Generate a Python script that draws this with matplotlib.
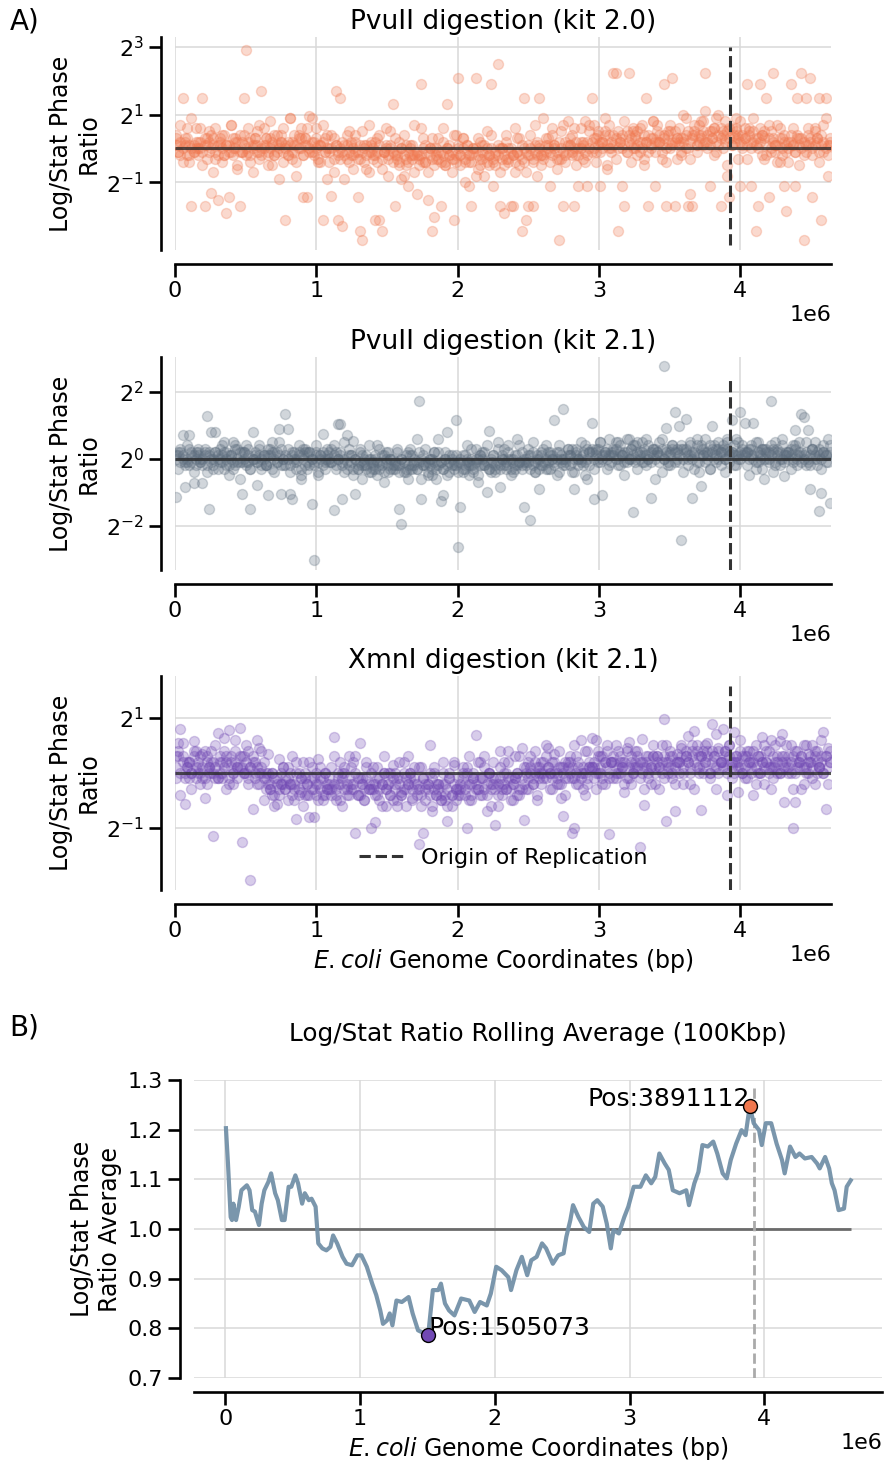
import numpy as np
import matplotlib.pyplot as plt
from matplotlib.ticker import FixedLocator, LogFormatterMathtext, NullLocator, MultipleLocator

GENOME_LEN = 4641652
ORIGIN = 3925744
N_BINS = 300  # genome bins of ~15.5 kb

# log2(log/stat ratio) per bin, PvuII kit 2.0
pvu20_log2 = [
    0.3, 0.1, -0.2, 1.48, 0.2, 0.6, -0.4, -1.71, 0.1, 0.0,
    0.2, 0.0, 1.48, -1.71, 0.3, 0.5, -1.32, 0.1, -0.3, -1.51,
    0.1, 0.4, -0.2, -1.9, -1.43, 0.7, 0.0, 0.2, -0.6, -1.71,
    0.2, 1.48, 2.90, -0.1, 0.3, -0.7, 0.1, 0.5, -0.3, 1.71,
    0.0, 0.3, -0.5, 0.8, 0.1, -0.2, 0.4, -0.9, 0.2, 0.6,
    -2.12, 0.2, 0.9, -0.3, 0.1, -0.8, 0.4, 0.0, -1.43, 0.3,
    -1.43, 0.95, 0.2, -0.1, 0.6, -0.4, 0.1, -2.12, 0.3, -0.9,
    0.0, -1.4, 0.3, 1.71, -2.1, 1.48, -2.28, 0.1, -0.3, 0.5,
    0.2, -0.2, 0.4, -1.43, -2.43, -2.69, 0.1, -0.6, 0.7, -0.1,
    -0.2, -2.12, 0.3, -2.12, -2.43, -0.1, 0.6, -0.8, 0.0, 1.32,
    -1.71, -0.3, 0.2, -0.9, 0.4, -0.5, -1.1, 0.1, -0.2, 0.7,
    -1.35, -0.2, 1.91, 0.3, -0.4, -1.51, 0.0, -2.43, -2.02, -0.3,
    -0.1, -1.71, 0.2, -0.5, 1.32, 0.1, -0.3, -2.12, 0.4, 2.07,
    -0.2, 0.3, -0.4, 0.1, -1.12, -1.71, 0.0, 2.07, -0.6, 0.2,
    -0.3, 0.1, 0.5, -0.2, 1.91, -1.12, -0.5, 2.50, -1.71, 0.0,
    -1.9, 0.2, -0.3, -1.71, -1.71, 0.6, -0.1, 0.3, -2.43, 1.48,
    -2.12, -1.71, 0.4, -1.71, 0.7, 0.2, 1.48, -0.2, 0.9, 0.1,
    0.3, -1.12, 0.6, 0.0, -0.3, -2.69, 0.5, -1.71, 0.2, 0.8,
    0.1, 0.4, -1.71, -0.2, -1.12, 0.6, 0.2, -0.4, -1.12, 0.7,
    1.48, 0.3, -0.1, 0.5, -1.12, 0.2, 0.9, -0.5, 0.4, 0.0,
    2.23, 2.23, -2.43, 0.3, -1.12, -1.71, 0.5, 2.23, 0.1, 0.6,
    0.4, -0.2, 0.6, 0.2, -0.5, 1.48, -1.71, 0.3, 0.8, -1.12,
    0.5, 0.2, -0.3, 1.91, -1.71, 0.4, 0.7, 2.07, -1.71, 0.3,
    0.6, -0.2, 0.3, 0.9, -1.71, -1.36, -1.71, 0.4, 0.1, 0.7,
    0.4, 0.8, 2.23, 0.2, -1.12, 0.5, 0.6, -0.1, 1.0, -1.71,
    0.5, 0.3, -0.8, -1.43, 0.6, 0.2, 0.9, 0.4, -1.12, 0.1,
    0.3, 1.91, 0.6, -1.12, 0.2, -2.43, -1.71, 1.91, 0.4, -0.3,
    1.48, -1.43, 0.5, 2.23, 0.1, 0.7, -0.4, 0.3, -1.12, -1.86,
    0.2, 1.91, 0.6, -1.12, 1.48, 0.3, 2.23, -2.69, 1.48, 0.4,
    2.07, -1.43, 0.5, 0.2, 1.48, -2.12, 0.7, 1.48, -0.8, 0.3,
]
# second and third fragment per bin, tenths of log2
pvu20_core = [
    1, -1, 2, 0, 3, -2, 1, 0, -1, 2,
    0, 2, -1, 1, -3, 2, 0, 3, -1, 1,
    2, 0, -2, 1, 1, -1, 3, 0, 2, -1,
    -1, 1, 0, 2, -2, 0, 3, 1, -1, 0,
    1, 3, -1, 0, 2, -2, 1, 0, 2, -1,
    0, -2, 1, 2, -1, 1, 0, 3, -2, 1,
    1, 0, -1, 2, 0, -3, 1, 2, -1, 0,
    -1, 0, -3, 1, -2, 0, -1, -2, 1, -1,
    -2, 0, -1, -3, 1, -1, 0, -2, -1, 1,
    0, -2, -1, 1, -3, -1, 0, -2, 1, -1,
    -2, -1, -4, 0, -2, -3, -1, 0, -3, -2,
    -1, -3, -2, 0, -4, -1, -2, -3, 0, -2,
    -3, -1, -2, -4, 0, -2, -1, -3, -2, 0,
    -2, 0, -3, -1, -2, -4, -1, 0, -2, -3,
    -1, -2, -4, -2, 0, -3, -1, -2, 0, -3,
    -2, -3, 0, -1, -2, -4, -1, -2, -3, 0,
    -1, -2, 0, -3, -1, -2, 1, -2, -3, -1,
    0, -1, -2, 1, -1, -3, 0, -1, -2, 1,
    1, -1, 0, 2, -2, 0, 1, -1, 2, 0,
    2, 0, 3, 1, -1, 2, 4, 1, 0, 2,
    1, 3, 0, 2, 4, 1, -1, 2, 3, 0,
    3, 1, 2, 0, 4, 2, -1, 1, 3, 2,
    2, 4, 1, 3, 0, 2, 5, 1, 2, 3,
    1, 3, 2, 4, 0, 2, 3, 5, 1, 2,
    3, 5, 2, 4, 1, 3, 6, 2, 4, 3,
    4, 2, 5, 3, 1, 4, 6, 3, 2, 4,
    3, 1, 4, 2, 5, 3, 0, 2, 4, 3,
    1, 3, 0, 2, -1, 1, 3, 0, 2, 1,
    0, 2, 1, -1, 3, 1, 0, 2, -1, 1,
    2, 0, 1, 3, -1, 1, 2, 0, 1, 2,
]
pvu20_mid = [
    4, -1, 7, -4, 1, 3, -2, 9, -1, 6,
    -2, 6, -5, 3, 1, -1, 4, -7, 6, -2,
    3, -4, 4, 1, -1, 7, -2, 3, -5, 4,
    -1, 4, -2, 6, -4, 1, 3, -1, 7, -2,
    6, 1, -2, 3, -5, 4, -1, 1, 4, -4,
    1, -2, 9, -1, 4, -4, 3, 6, -2, 3,
    6, -1, 9, -2, 3, 1, -4, 7, -1, 4,
    -4, 4, -7, 1, -1, -3, 2, -9, 4, -4,
    1, -6, 2, -1, -3, 5, -4, 1, -7, 2,
    -3, 2, -4, 4, -6, -1, 1, -3, 5, -4,
    3, -2, -5, 0, -8, 1, -4, -2, 1, -7,
    -2, -5, 6, -4, 1, -7, 0, 3, -5, 0,
    3, -4, 6, -5, 0, -2, -7, 4, -4, 1,
    -5, 3, -10, 1, -4, -2, 0, -8, 3, -5,
    1, -8, 0, -5, 4, -4, -2, 1, -7, 0,
    -5, 4, -4, 0, -2, -7, 3, -5, 1, -4,
    -7, 1, -2, -4, 1, -8, 0, -5, -2, 3,
    1, -4, 4, 1, -6, 2, -3, 7, -4, -1,
    3, -2, 6, -5, 0, 2, -3, 8, -2, 5,
    -1, 7, -4, 4, 2, 0, 5, -6, 7, -1,
    4, -3, 5, 2, 0, 8, -1, 4, -4, 5,
    0, 5, -1, 7, -3, 2, 4, 0, 8, -1,
    7, 2, -1, 4, -4, 5, 0, 2, 5, -3,
    2, -1, 10, 0, 5, -3, 4, 7, -1, 4,
    8, 1, 11, 0, 5, 3, -2, 9, 1, 6,
    0, 8, -5, 6, 1, 3, 5, -3, 8, 0,
    6, -3, 5, 0, 9, 1, 3, 6, -2, 5,
    -2, 7, -1, 3, 1, -4, 6, -2, 4, -1,
    -4, 4, 1, -1, 4, -5, 3, -2, 1, 6,
    3, -2, 6, 3, -4, 4, -1, 9, -2, 1,
]

# PvuII kit 2.1
pvu21_log2 = [
    -1.15, 0.1, 0.3, 0.71, -0.85, -0.1, 0.71, 0.2, -0.72, 0.0,
    0.2, -0.1, -0.72, 0.3, 1.29, -1.51, 0.8, -0.2, 0.8, 0.1,
    0.0, 0.4, -0.3, 0.2, -0.5, 0.1, 0.5, -0.2, 0.3, -0.6,
    -1.07, 0.2, 0.4, -0.1, -1.51, 0.81, 0.0, -0.79, 0.3, -0.3,
    0.1, -0.2, -1.09, 0.3, 0.5, -0.4, 0.2, 0.9, -1.05, 0.0,
    1.33, 0.9, -1.05, -1.22, 0.2, -0.3, 0.4, -0.6, 0.1, 0.3,
    0.2, -0.2, -1.35, -3.02, 0.4, -0.5, 0.1, 0.74, -0.3, 0.0,
    -0.1, 0.3, -1.53, 0.2, 1.03, 1.03, -1.22, -0.4, 0.71, -0.2,
    0.1, 0.54, -1.07, -0.3, 0.2, -0.6, 0.0, -0.2, 0.4, -0.4,
    -0.3, 0.1, -0.5, 0.3, -0.1, -0.7, 0.2, -0.4, 0.0, -0.2,
    -0.2, 0.2, -1.51, -1.96, -0.4, 0.1, -0.6, 0.3, -0.3, 0.0,
    0.59, 1.73, -1.22, -0.2, 0.3, -0.5, 0.0, -0.3, 0.2, -0.6,
    0.59, -1.27, -1.1, 0.2, 0.81, -0.4, 0.0, -0.2, 1.16, -2.65,
    -1.44, 0.1, -0.3, 0.4, -0.5, 0.0, -0.2, 0.3, -0.7, 0.1,
    -0.2, 0.2, -1.0, 0.83, -0.4, 0.1, -0.3, 0.5, -0.85, 0.0,
    0.3, -0.2, 0.4, -0.5, 0.0, -0.3, 0.6, -0.1, 0.2, -1.44,
    -0.1, 0.3, -1.84, 0.5, -0.4, 0.1, -0.92, 0.2, -0.2, 0.4,
    0.2, -0.3, 0.1, 1.16, -0.5, 0.4, 0.0, 1.48, -0.2, 0.3,
    0.1, -0.4, -0.92, 0.3, 0.0, 0.5, -0.2, 0.4, -0.6, 0.2,
    1.06, -1.22, 0.3, 0.0, 0.5, -1.09, 0.2, -0.3, 0.6, 0.1,
    0.2, 0.5, -0.2, 0.4, 0.1, -0.5, 0.6, 0.0, 0.3, -1.61,
    0.4, -0.3, 0.2, 0.5, -0.1, 0.6, 0.0, -1.17, 0.3, -0.6,
    0.2, 0.5, -0.4, 2.76, 0.93, 0.1, -0.2, 0.4, 1.39, 0.3,
    0.98, -2.43, 0.3, 1.19, -0.2, 0.5, -1.17, 0.1, 0.6, -0.4,
    -0.82, 0.3, 0.6, 0.1, -0.3, 0.98, 0.4, -0.1, 0.5, 0.2,
    0.3, -0.4, 0.5, 0.2, 1.16, -0.2, 0.6, 0.1, 1.41, 0.4,
    1.08, 0.2, -0.5, 0.4, 1.08, -0.3, 0.5, 0.0, 0.3, -0.6,
    0.3, 0.0, 1.73, -0.4, 0.5, 0.2, -0.2, 0.4, -0.53, 0.1,
    0.2, -0.3, 0.4, 0.85, 0.0, 0.5, 1.35, 1.26, -0.2, 0.85,
    -0.9, 0.3, 0.5, -0.2, -1.58, -1.04, 0.4, 0.1, 0.6, -1.34,
]
pvu21_core = [
    0, 2, -1, 1, -2, 0, 3, -1, 1, -2,
    1, -1, 0, 2, -2, 1, 0, -3, 2, 0,
    -1, 1, 2, 0, -2, 1, -1, 3, 0, -1,
    2, 0, -1, 1, -3, 0, 2, -1, 1, 0,
    0, -2, 1, -1, 2, 0, -1, 1, 3, -2,
    1, 0, -2, 2, -1, 0, 1, -3, 0, 2,
    -1, 2, 0, -2, 1, -1, 0, 2, -1, 1,
    0, -1, 1, -2, 0, 2, -1, 0, -3, 1,
    -1, -3, 0, -2, -1, 1, -2, -3, 0, -1,
    -2, 0, -1, -3, -2, 1, -1, -2, 0, -3,
    -1, -2, -4, 0, -1, -3, -2, 1, -2, -1,
    -3, -1, 0, -2, -1, -4, -2, 0, -1, -2,
    -2, -1, -3, 0, -2, -1, 1, -3, -2, -1,
    -1, -3, -2, 0, -1, -2, -4, -1, 0, -2,
    0, -2, -1, -3, -1, 1, -2, -1, -3, 0,
    -2, -1, 0, -3, -1, -2, 1, -1, -2, 0,
    0, -1, 1, -2, -1, 0, -3, 1, -1, 0,
    -1, 1, 0, -2, 0, 2, -1, 0, -1, 1,
    1, -1, 0, 2, -2, 0, 1, -1, 0, 2,
    2, 0, 1, 3, -1, 1, 2, 0, 1, -1,
    1, 3, 0, 2, 1, -1, 2, 0, 3, 1,
    0, 2, 1, -1, 3, 1, 0, 2, 1, 3,
    2, 1, 3, 0, 2, -1, 1, 3, 2, 0,
    1, 3, 0, 2, 1, 4, 0, 2, -1, 1,
    3, 1, 2, 0, 4, 2, 1, 3, 0, 2,
    2, 0, 3, 1, 2, 4, 1, 0, 2, 1,
    1, 2, 0, 3, 1, -1, 2, 1, 3, 0,
    0, 2, 1, 3, -1, 1, 2, 0, 1, 2,
    2, 1, 0, 3, 1, 2, -1, 1, 2, 0,
    1, 3, 0, 2, 1, 0, 2, 1, -1, 2,
]
pvu21_mid = [
    1, -3, 2, 0, -1, 4, -2, 1, -4, 2,
    3, 0, -2, 1, -4, 2, -1, 0, 2, -3,
    3, -1, 5, -2, 1, 0, -3, 4, -1, 2,
    -1, 2, -2, 3, -3, 0, 1, -1, 4, -2,
    1, -2, 3, 1, -3, 2, -1, 5, -2, 0,
    -2, 3, -4, 1, 0, -1, 2, -5, 3, -2,
    -3, 2, 0, -1, 2, -4, 1, -2, 0, 3,
    2, -1, 4, -3, 0, 1, -2, 5, -1, 3,
    1, -5, 0, -3, 3, -2, -1, 1, -4, 0,
    -1, -3, 4, -2, 1, -4, 0, 2, -3, 0,
    -3, 3, -2, 0, -1, -4, 2, -3, 1, -2,
    -3, 2, -6, 1, -2, -1, 0, -5, 2, -3,
    2, -1, -3, 0, -5, 1, -2, -1, 1, -4,
    0, -4, 1, -1, -2, 3, -3, 0, -5, 1,
    2, -2, 4, -3, 0, -1, -4, 3, -2, 1,
    0, -3, 2, 0, -4, 1, -2, 4, -3, -1,
    -2, 1, -3, 2, -4, -1, 0, -2, 3, -3,
    -3, 2, 0, -1, 2, -4, 1, -2, 0, 3,
    -2, 3, -4, 1, 0, -1, 2, -5, 3, -2,
    3, -3, 2, -1, 5, 0, 1, 3, -2, 2,
    3, 0, 5, -2, 1, 2, -1, 6, 0, 4,
    -1, 5, 0, 2, 1, -2, 4, -1, 3, 0,
    1, -1, 6, 0, 3, -2, 2, 4, -1, 2,
    -1, 4, -4, 3, 0, 1, 2, -3, 4, -1,
    4, 1, -1, 2, -3, 3, 0, 1, 3, -2,
    4, 0, 6, -1, 2, 1, -2, 5, 0, 3,
    2, -2, 3, 1, 0, 5, -1, 2, -3, 3,
    2, -1, 4, 2, -2, 3, 0, 6, -1, 1,
    0, 3, -1, 4, -2, 1, 2, 0, 5, -1,
    -2, 3, 1, 0, 3, -3, 2, -1, 1, 4,
]

# XmnI kit 2.1
xmn21_log2 = [
    0.3, 0.55, 0.79, 0.55, -0.56, 0.2, -0.1, 0.0, 0.58, 0.4,
    0.1, -0.2, 0.35, -0.45, 0.2, 0.0, 0.4, -1.14, -0.1, 0.72,
    0.3, 0.0, 0.64, -0.3, 0.78, 0.2, -0.2, 0.4, 0.1, 0.82,
    -1.26, 0.3, 0.0, 0.4, -1.94, -0.65, 0.2, -0.2, 0.45, 0.1,
    0.2, -0.1, 0.35, -0.3, 0.0, -0.4, -0.56, 0.25, -0.2, 0.1,
    -0.3, 0.1, -0.2, 0.3, -0.5, -0.84, 0.0, -0.35, 0.2, -0.1,
    -0.2, -0.8, 0.1, -0.8, -0.4, 0.25, -0.1, -0.5, 0.0, -0.3,
    -0.3, 0.1, 0.65, -0.5, -0.2, 0.2, -0.6, 0.0, -0.3, 0.3,
    -0.2, 0.2, -1.09, -0.4, 0.55, -0.1, -0.5, 0.1, -0.3, -1.0,
    -0.3, -0.9, 0.1, -0.5, -0.2, 0.3, -0.6, 0.0, -0.4, 0.15,
    -0.2, -0.5, 0.2, -0.35, 0.0, -0.6, 0.3, -0.1, -0.45, 0.1,
    -0.3, -1.3, 0.1, -1.1, -0.5, -0.2, 0.5, -0.6, 0.0, -0.4,
    -0.2, -0.5, 0.2, -0.4, -0.87, 0.0, -0.6, 0.15, -0.3, -0.1,
    -0.4, 0.1, -0.2, -1.01, 0.3, -0.5, 0.0, 0.68, -0.3, 0.2,
    -0.1, 0.3, -0.4, 0.0, -0.6, 0.2, -0.94, -0.2, 0.4, -0.3,
    0.2, -0.3, 0.4, -0.1, -0.5, 0.3, 0.0, -0.4, 0.45, -0.86,
    0.1, -0.3, 0.3, -0.2, 0.4, -0.5, 0.0, 0.2, -0.1, 0.5,
    0.45, 0.0, -0.3, 0.35, -0.2, 0.1, -0.45, -0.79, 0.2, -0.1,
    0.2, -1.1, -1.0, 0.3, -0.2, 0.59, 0.0, -0.4, 0.4, 0.1,
    0.64, 0.1, -0.3, 0.4, 0.0, 0.3, -0.2, 0.5, -1.11, 0.2,
    0.3, -0.1, 0.4, 0.0, 0.2, -0.35, 0.45, 0.56, -0.2, 0.1,
    0.2, 0.4, -1.35, 0.62, -0.58, 0.1, 0.3, -0.2, 0.5, 0.0,
    0.3, 0.1, 0.5, 0.98, -0.88, 0.2, 0.4, -0.1, -0.7, 0.35,
    0.2, 0.45, 0.0, 0.3, 0.67, -0.2, 0.5, 0.76, 0.1, 0.3,
    -0.67, 0.4, 0.2, 0.55, 0.0, 0.88, 0.3, -0.3, 0.45, 0.2,
    0.79, 0.3, -0.4, 0.5, 0.1, 0.74, 0.2, -0.35, 0.4, 0.0,
    0.3, -0.1, 0.4, 0.2, -0.4, 0.5, 0.0, 0.3, 0.65, -0.2,
    0.2, 0.4, -0.3, 0.1, 0.5, 0.0, 0.58, 0.3, -0.53, 0.2,
    0.3, 0.0, -1.0, -0.53, 0.4, 0.2, -0.3, 0.5, 0.1, 0.35,
    0.2, 0.5, -0.2, 0.4, 0.1, 0.3, 0.74, -0.65, 0.45, 0.2,
]
xmn21_core = [
    1, 3, 0, 2, -1, 1, 2, 0, 3, 1,
    2, 0, 1, -1, 3, 1, 0, 2, 1, -1,
    0, 2, 1, 3, -1, 1, 0, 2, 1, 3,
    1, 0, 2, -1, 1, 3, 0, 1, -2, 0,
    -1, -3, 0, -2, -4, -1, -2, -3, 0, -2,
    -3, -1, -2, -4, -2, 0, -3, -1, -2, -4,
    -2, -4, -1, -3, 0, -2, -3, -1, -4, -2,
    -1, -3, -2, -4, -1, -2, 0, -3, -2, -4,
    -3, -2, 0, -1, -4, -2, -3, -1, -2, -3,
    -2, -4, -1, -3, -2, 0, -3, -2, -4, -1,
    -3, -1, -2, -4, -3, -1, -2, 0, -3, -2,
    -2, -3, -4, -1, -3, -2, -4, -1, -3, -2,
    -3, -4, -2, -5, -3, -1, -4, -2, -3, -4,
    -2, -1, -3, 0, -2, -4, -1, -2, -3, -1,
    -1, -3, -2, 0, -2, -1, -3, -4, -1, -2,
    -2, 0, -1, -3, -2, -1, 0, -3, -1, -2,
    0, -1, 1, -2, 0, 1, -1, 0, 2, -1,
    1, 0, -1, 2, 0, -2, 1, 0, -1, 1,
    0, 1, -1, 0, 2, -1, 1, 0, -2, 1,
    1, 2, 0, 3, 1, -1, 2, 1, 0, 2,
    2, 0, 1, 3, 1, 2, -1, 1, 2, 0,
    1, 3, 2, 0, 1, 2, -1, 1, 3, 1,
    2, 1, 0, 3, 2, 1, 3, 0, 1, 2,
    2, 3, 1, 4, 2, 0, 3, 2, 4, 1,
    3, 1, 2, 4, 0, 2, 3, 1, 4, 2,
    2, 4, 1, 3, 2, 0, 3, 2, 1, 3,
    1, 3, 2, 0, 2, 1, 3, 0, 2, 1,
    2, 0, 1, 3, 1, 2, 0, 2, 3, 1,
    1, 2, 3, 0, 2, 1, 3, 1, 0, 2,
    2, 1, 3, 0, 1, 2, 0, 3, 1, 2,
]
xmn21_mid = [
    -1, 4, -4, 3, 0, 1, 2, -3, 4, -1,
    0, 3, -1, 4, -2, 1, 2, 0, 5, -1,
    2, -1, 4, 2, -2, 3, 0, 6, -1, 1,
    3, 0, 5, -2, 1, 2, -1, 6, 0, 4,
    -5, 0, -2, -3, 0, -6, -1, -4, -2, 1,
    -1, -5, 0, -2, -3, 2, -4, -1, -6, 0,
    -4, 2, -3, -1, -2, -5, 1, -4, 0, -3,
    -2, -4, 3, -3, 0, -5, -1, 1, -4, -1,
    1, -3, 3, -4, -1, -2, -5, 2, -3, 0,
    1, -2, -4, -1, -6, 0, -3, -2, 0, -5,
    0, -6, -1, -4, 2, -3, -2, 0, -5, -1,
    -4, 1, -6, -1, -2, -3, 0, -7, 1, -4,
    -2, -5, 0, -2, -6, -1, -4, 2, -5, -3,
    -3, 0, -4, 1, -5, -2, -1, -3, 2, -4,
    -4, 1, -7, 0, -3, -2, -1, -6, 1, -4,
    0, -3, 2, -5, -2, -1, -4, 3, -3, 1,
    -3, 2, 0, -1, 2, -4, 1, -2, 0, 3,
    1, -3, 2, 0, -1, 4, -2, 1, -4, 2,
    3, -1, 5, -2, 1, 0, -3, 4, -1, 2,
    1, -1, 6, 0, 3, -2, 2, 4, -1, 2,
    -1, 5, 0, 2, 1, -2, 4, -1, 3, 0,
    4, 1, -1, 2, -3, 3, 0, 1, 3, -2,
    3, -3, 2, -1, 5, 0, 1, 3, -2, 2,
    0, 5, -2, 3, 2, 1, 4, -3, 5, 0,
    3, 0, 5, 3, -1, 4, 1, 7, 0, 2,
    1, 4, 0, 5, -1, 2, 3, 1, 6, 0,
    -1, 4, 2, 1, 4, -2, 3, 0, 2, 5,
    4, 1, 6, -1, 2, 3, 0, 7, 1, 5,
    0, 5, -3, 4, 1, 2, 3, -2, 5, 0,
    3, -1, 4, 2, 1, 6, 0, 3, -2, 4,
]

# 100 kbp rolling average (position in Mbp, ratio)
roll_pos = [
    0.005, 0.02, 0.04, 0.05, 0.06, 0.08, 0.10, 0.12, 0.16, 0.18,
    0.20, 0.22, 0.25, 0.27, 0.29, 0.32, 0.34, 0.37, 0.39, 0.42,
    0.44, 0.47, 0.49, 0.52, 0.54, 0.57, 0.59, 0.62, 0.64, 0.67,
    0.69, 0.72, 0.75, 0.78, 0.80, 0.83, 0.87, 0.90, 0.94, 0.98,
    1.01, 1.05, 1.09, 1.12, 1.15, 1.17, 1.20, 1.22, 1.24, 1.27,
    1.31, 1.36, 1.39, 1.43, 1.505073, 1.54, 1.58, 1.60, 1.63, 1.66,
    1.70, 1.75, 1.81, 1.85, 1.89, 1.94, 1.97, 2.01, 2.05, 2.10,
    2.12, 2.16, 2.20, 2.24, 2.27, 2.31, 2.35, 2.38, 2.43, 2.47,
    2.51, 2.53, 2.56, 2.58, 2.62, 2.66, 2.70, 2.73, 2.76, 2.80,
    2.83, 2.86, 2.88, 2.92, 2.96, 2.99, 3.03, 3.08, 3.12, 3.16,
    3.19, 3.22, 3.26, 3.29, 3.32, 3.37, 3.42, 3.44, 3.48, 3.51,
    3.54, 3.58, 3.62, 3.65, 3.69, 3.72, 3.75, 3.79, 3.83, 3.86,
    3.891112, 3.92, 3.96, 3.98, 4.01, 4.05, 4.09, 4.13, 4.15, 4.19,
    4.23, 4.26, 4.30, 4.35, 4.39, 4.41, 4.45, 4.48, 4.50, 4.52,
    4.55, 4.59, 4.61, 4.64,
]
roll_val = [
    1.203, 1.132, 1.024, 1.018, 1.051, 1.018, 1.045, 1.078, 1.088, 1.078,
    1.038, 1.035, 1.008, 1.051, 1.078, 1.095, 1.112, 1.072, 1.058, 1.018,
    1.018, 1.085, 1.085, 1.108, 1.092, 1.051, 1.072, 1.058, 1.061, 1.045,
    0.971, 0.961, 0.957, 0.964, 0.987, 0.971, 0.944, 0.930, 0.927, 0.947,
    0.947, 0.924, 0.890, 0.867, 0.836, 0.809, 0.816, 0.830, 0.806, 0.856,
    0.853, 0.863, 0.830, 0.796, 0.786, 0.877, 0.877, 0.890, 0.850, 0.836,
    0.826, 0.860, 0.856, 0.833, 0.853, 0.846, 0.870, 0.924, 0.917, 0.903,
    0.877, 0.917, 0.944, 0.907, 0.937, 0.944, 0.971, 0.961, 0.930, 0.947,
    0.951, 0.984, 1.018, 1.048, 1.024, 1.004, 0.994, 1.051, 1.058, 1.045,
    1.011, 0.961, 0.998, 0.991, 1.024, 1.045, 1.085, 1.085, 1.108, 1.092,
    1.105, 1.152, 1.132, 1.119, 1.078, 1.072, 1.078, 1.048, 1.092, 1.115,
    1.169, 1.166, 1.176, 1.152, 1.112, 1.102, 1.139, 1.172, 1.199, 1.189,
    1.248, 1.213, 1.199, 1.169, 1.213, 1.213, 1.172, 1.139, 1.112, 1.166,
    1.145, 1.152, 1.142, 1.145, 1.132, 1.122, 1.145, 1.122, 1.092, 1.078,
    1.038, 1.041, 1.085, 1.098,
]

panel_titles = ["PvuII digestion (kit 2.0)", "PvuII digestion (kit 2.1)", "XmnI digestion (kit 2.1)"]
panel_yticks = [[-1, 1, 3], [-2, 0, 2], [-1, 1]]  # powers of 2

SALMON = "#F0784F"
SLATE = "#5D6D7E"
PURPLE = "#7149B4"
LINE_BLUE = "#7391A8"

plt.rcParams.update({
    "font.family": "DejaVu Sans",
    "xtick.labelsize": 16,
    "ytick.labelsize": 16,
    "axes.linewidth": 1.9,
    "xtick.major.width": 1.9,
    "ytick.major.width": 1.9,
    "xtick.major.size": 9,
    "ytick.major.size": 9,
})

fig = plt.figure(figsize=(8.84, 14.6), dpi=100)
W, H = 884, 1460


def add_axes(left, top, right, bottom):
    return fig.add_axes([left / W, 1 - bottom / H, (right - left) / W, (bottom - top) / H])


def style_axes(ax):
    for side in ["top", "right"]:
        ax.spines[side].set_visible(False)
    ax.spines["left"].set_position(("outward", 10))
    ax.spines["bottom"].set_position(("outward", 10))
    ax.grid(True, color="#d8d8d8", lw=1.1)
    ax.set_axisbelow(True)


bin_mid = (np.arange(N_BINS) + 0.5) * GENOME_LEN / N_BINS
series = [
    (pvu20_log2, pvu20_core, pvu20_mid, SALMON),
    (pvu21_log2, pvu21_core, pvu21_mid, SLATE),
    (xmn21_log2, xmn21_core, xmn21_mid, PURPLE),
]
boxes = [(37, 250), (357, 570), (676, 890)]
ylims = [(-3.0, 3.29), (-3.33, 3.04), (-2.13, 1.76)]
ori_span = [(0.023, 0.953), (0.0, 0.89), (0.0, 0.953)]

for i, (vals, core, mid, col) in enumerate(series):
    top, bottom = boxes[i]
    ax = add_axes(175, top, 831, bottom)
    style_axes(ax)
    ax.set_yscale("log", base=2)
    for tenths in (core, mid):
        ax.scatter(bin_mid, 2.0 ** (np.array(tenths) / 10.0), s=52, color=col, alpha=0.28, lw=1, zorder=2)
    ax.scatter(bin_mid, 2.0 ** np.array(vals), s=52, color=col, alpha=0.28, lw=1, zorder=2)
    ax.hlines(1, 0, GENOME_LEN, color="#2a2a2a", lw=2.2, alpha=0.8, zorder=3)
    ax.axvline(ORIGIN, ymin=ori_span[i][0], ymax=ori_span[i][1], color="#333333", ls="--", lw=2.2,
               zorder=4, label="Origin of Replication")
    ax.set_xlim(0, GENOME_LEN)
    ax.set_ylim(2.0 ** ylims[i][0], 2.0 ** ylims[i][1])
    ax.yaxis.set_major_locator(FixedLocator([2.0 ** e for e in panel_yticks[i]]))
    ax.yaxis.set_major_formatter(LogFormatterMathtext(base=2))
    ax.yaxis.set_minor_locator(NullLocator())
    ax.xaxis.set_major_locator(MultipleLocator(1e6))
    ax.set_title(panel_titles[i], fontsize=19)
    ax.set_ylabel("Log/Stat Phase\nRatio", fontsize=17)
    if i == 2:
        ax.set_xlabel(r"$E. coli$ Genome Coordinates (bp)", fontsize=17)
        ax.legend(loc="center", bbox_to_anchor=(0.5, 0.15), frameon=False, fontsize=16)

# rolling average panel
axb = add_axes(194, 1080, 882, 1378)
style_axes(axb)
pos_bp = np.array(roll_pos) * 1e6
axb.plot(pos_bp, roll_val, color=LINE_BLUE, lw=3, alpha=0.95, zorder=3)
axb.hlines(1.0, 0, GENOME_LEN, color="#6b6b6b", lw=2, zorder=2)
axb.axvline(ORIGIN, ymin=0, ymax=0.98, color="#aaaaaa", ls="--", lw=2, zorder=2)
i_max = int(np.argmax(roll_val))
i_min = int(np.argmin(roll_val))
axb.plot(pos_bp[i_max], roll_val[i_max], "o", ms=10, mfc=SALMON, mec="black", mew=1, zorder=5)
axb.plot(pos_bp[i_min], roll_val[i_min], "o", ms=10, mfc=PURPLE, mec="black", mew=1, zorder=5)
axb.text(pos_bp[i_max], roll_val[i_max], "Pos:%d" % round(pos_bp[i_max]), ha="right", va="baseline", fontsize=18)
axb.text(pos_bp[i_min], roll_val[i_min], "Pos:%d" % round(pos_bp[i_min]), ha="left", va="baseline", fontsize=18)
axb.set_xlim(-0.232e6, 4.872e6)
axb.set_ylim(0.7, 1.3)
axb.yaxis.set_major_locator(MultipleLocator(0.1))
axb.xaxis.set_major_locator(MultipleLocator(1e6))
axb.set_title("Log/Stat Ratio Rolling Average (100Kbp)", fontsize=17.8, pad=28)
axb.set_ylabel("Log/Stat Phase\nRatio Average", fontsize=17)
axb.set_xlabel(r"$E. coli$ Genome Coordinates (bp)", fontsize=17)

fig.text(0.011, 0.985, "A)", fontsize=20, va="center")
fig.text(0.011, 0.296, "B)", fontsize=20, va="center")

fig.savefig("out.png", dpi=100)
